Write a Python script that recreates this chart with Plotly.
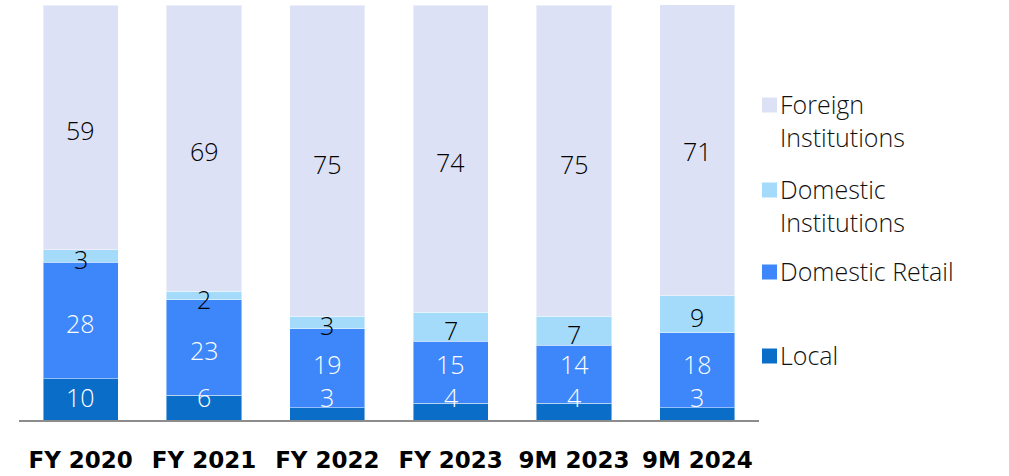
import plotly.graph_objects as go

categories = ["FY 2020", "FY 2021", "FY 2022", "FY 2023", "9M 2023", "9M 2024"]
local = [10, 6, 3, 4, 4, 3]
domestic_retail = [28, 23, 19, 15, 14, 18]
domestic_institutions = [3, 2, 3, 7, 7, 9]
foreign_institutions = [59, 69, 75, 74, 75, 71]

series = [
    ("Local", local, "#0A6EC8", "white"),
    ("Domestic Retail", domestic_retail, "#3D87FA", "white"),
    ("Domestic<br>Institutions", domestic_institutions, "#A4DBFB", "black"),
    ("Foreign<br>Institutions", foreign_institutions, "#DCE1F5", "black"),
]

FONT = "Open Sans"
TICK_FONT = "DejaVu Sans"
W, H = 1009, 476
PL, PR, PT, PB = 19, 250, 5, 56
plot_w = W - PL - PR
plot_h = H - PT - PB

MIN_BOTTOM_LABEL = 6.3   # keep the lowest label clear of the axis line
MIN_LABEL_GAP = 8.0      # minimum vertical distance between the two lowest labels


def px_x(px):
    return (px - PL) / plot_w


def px_y(py):
    return (H - PB - py) / plot_h


fig = go.Figure()
annotations = []
base = [0] * len(categories)
prev_label = [None] * len(categories)
for level, (name, vals, color, txtcolor) in enumerate(series):
    fig.add_trace(go.Bar(
        x=categories, y=vals, name=name.replace("<br>", " "),
        marker=dict(color=color, line=dict(color="rgba(255,255,255,0.45)", width=1)),
        showlegend=False, hoverinfo="skip",
    ))
    for i, v in enumerate(vals):
        mid = base[i] + v / 2
        if level == 0:
            mid = max(mid, MIN_BOTTOM_LABEL)
        elif level == 1:
            mid = max(mid, prev_label[i] + MIN_LABEL_GAP)
        prev_label[i] = mid
        annotations.append(dict(
            x=categories[i], y=mid, xref="x", yref="y", text=str(v),
            showarrow=False, yshift=-3,
            font=dict(family=FONT, size=25, color=txtcolor, weight=300),
        ))
        base[i] += v

# legend drawn as squares + labels to the right of the plot
legend_rows = [
    ("Foreign<br>Institutions", "#DCE1F5", 105),
    ("Domestic<br>Institutions", "#A4DBFB", 190),
    ("Domestic Retail", "#3D87FA", 272),
    ("Local", "#0A6EC8", 356),
]
shapes = []
for label, color, cy in legend_rows:
    shapes.append(dict(
        type="rect", xref="paper", yref="paper",
        x0=px_x(762), x1=px_x(777), y0=px_y(cy + 7.5), y1=px_y(cy - 7.5),
        fillcolor=color, line=dict(width=0),
    ))
    annotations.append(dict(
        x=px_x(778), y=px_y(cy - 20), xref="paper", yref="paper",
        xanchor="left", yanchor="top", align="left", showarrow=False,
        text=label, font=dict(family=FONT, size=25, color="#111111", weight=300),
    ))

fig.update_layout(
    width=W, height=H,
    margin=dict(l=PL, r=PR, t=PT, b=PB, pad=0),
    barmode="stack", bargap=0.39,
    plot_bgcolor="white", paper_bgcolor="white",
    xaxis=dict(
        showline=True, linecolor="#8C8C8C", linewidth=2,
        ticks="outside", ticklen=18, tickcolor="rgba(0,0,0,0)",
        tickfont=dict(family=TICK_FONT, size=23, color="black", weight="bold"),
        showgrid=False, automargin=False,
    ),
    yaxis=dict(range=[0, 100], visible=False, showgrid=False, automargin=False),
    annotations=annotations,
    shapes=shapes,
)

fig.write_html("out.html")
